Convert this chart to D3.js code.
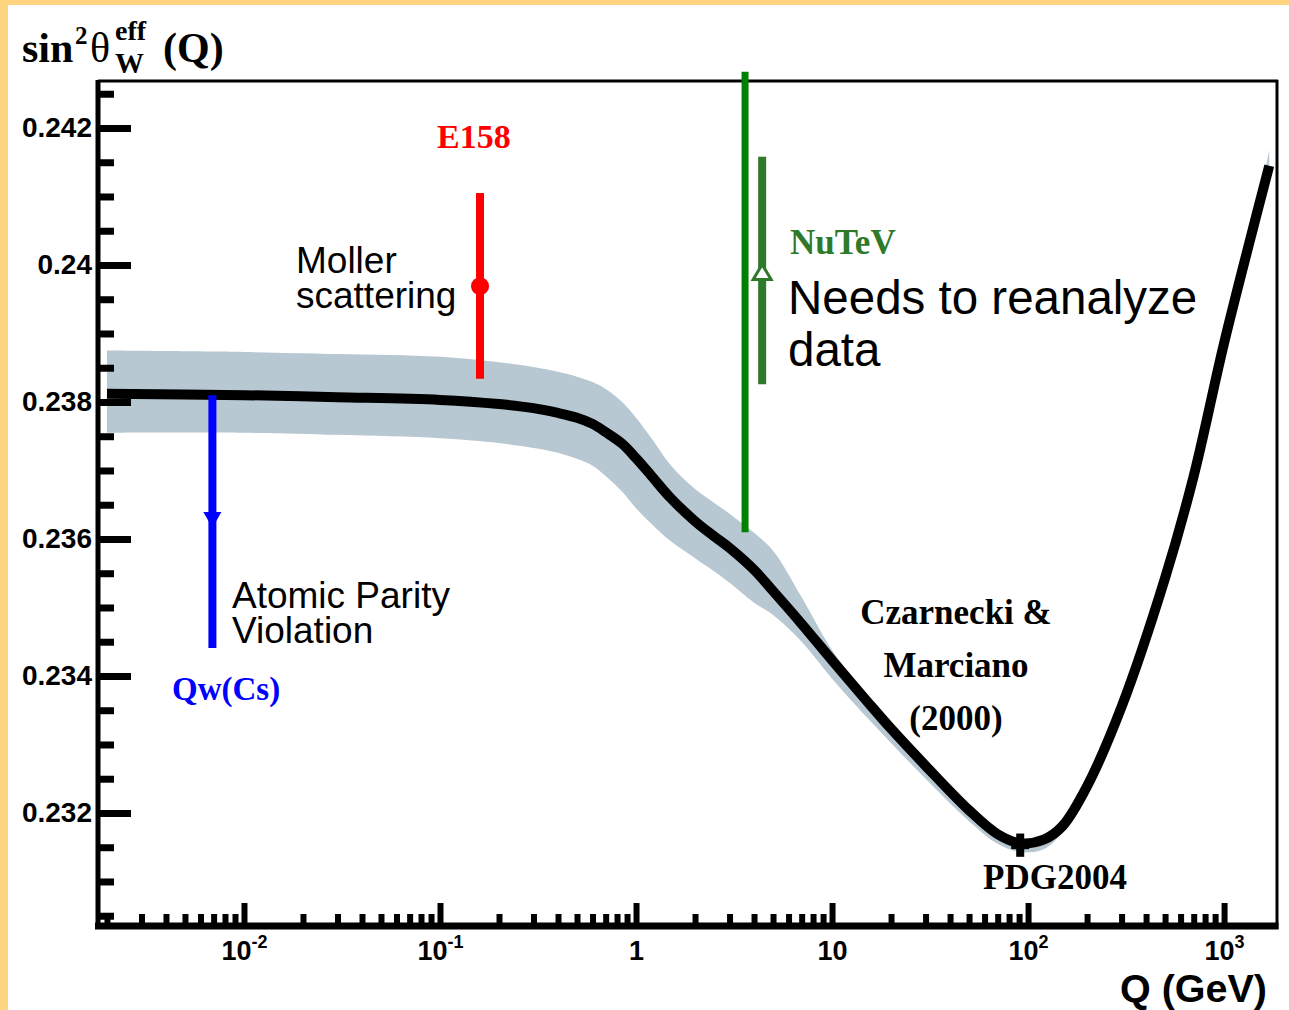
<!DOCTYPE html>
<html>
<head>
<meta charset="utf-8">
<script src="https://cdn.jsdelivr.net/npm/d3@7"></script>
<style>
  body { margin: 0; background: #fff; }
  svg { display: block; }
</style>
</head>
<body>
<svg id="chart" width="1289" height="1010"></svg>
<script>
// ==========================
// DATA
// ==========================
const qValues     = [0.002, 0.01, 0.03, 0.1, 0.2, 0.3, 0.4, 0.5, 0.6, 0.7, 0.85, 1, 1.2, 1.5, 2, 2.5, 3, 4, 5, 7, 10, 15, 20, 30, 50, 70, 91, 120, 150, 200, 300, 500, 700, 1000, 1500, 1700];
const curveValues = [0.23812, 0.23810, 0.23807, 0.23803, 0.23797, 0.23791, 0.23784, 0.23777, 0.23768, 0.23756, 0.23739, 0.23718, 0.23692, 0.23660, 0.23626, 0.23604, 0.23587, 0.23555, 0.23524, 0.23476, 0.23423, 0.23364, 0.23323, 0.23269, 0.23204, 0.23169, 0.23156, 0.23161, 0.23181, 0.23239, 0.23355, 0.23543, 0.23692, 0.23886, 0.24085, 0.24145];
const bandUpper   = [0.23875, 0.23873, 0.23870, 0.23866, 0.23858, 0.23851, 0.23844, 0.23837, 0.23829, 0.23819, 0.23800, 0.23777, 0.23747, 0.23708, 0.23673, 0.23653, 0.23637, 0.23609, 0.23583, 0.23515, 0.23438, 0.23372, 0.23330, 0.23275, 0.23210, 0.23175, 0.23162, 0.23166, 0.23190, 0.23250, 0.23365, 0.23553, 0.23702, 0.23896, 0.24095, 0.24168];
const bandLower   = [0.23755, 0.23755, 0.23752, 0.23747, 0.23740, 0.23733, 0.23726, 0.23717, 0.23707, 0.23692, 0.23669, 0.23645, 0.23622, 0.23597, 0.23572, 0.23553, 0.23536, 0.23507, 0.23489, 0.23450, 0.23396, 0.23340, 0.23302, 0.23250, 0.23188, 0.23155, 0.23143, 0.23147, 0.23172, 0.23231, 0.23345, 0.23533, 0.23682, 0.23876, 0.24075, 0.24136];

// measurements: [Q, low, central, high]
const e158     = [0.16, 0.23834, 0.23969, 0.24105];
const nutev    = [4.4, 0.23826, 0.23989, 0.24158];
const nutevOld = [3.6, 0.23610, 0.24282];            // [Q, low, high]
const apv      = [0.0069, 0.23441, 0.23616, 0.2381]; // [Q, bottom, arrow tip, top]
const pdg      = [91.19, 0.23136, 0.23153, 0.23170];

const yMajorTicks = [0.232, 0.234, 0.236, 0.238, 0.24, 0.242];
const yTickLabels = ["0.232", "0.234", "0.236", "0.238", "0.24", "0.242"];
const xMajorTicks = [0.01, 0.1, 1, 10, 100, 1000];
const xTickLabels = [["10", "-2"], ["10", "-1"], ["1", ""], ["10", ""], ["10", "2"], ["10", "3"]];

// ==========================
// SETUP
// ==========================
const svg = d3.select("#chart");
const plotLeft = 98, plotRight = 1277, plotTop = 81, plotBottom = 926;
const sans = "'Liberation Sans', Arial, sans-serif";
const serif = "'Liberation Serif', 'Times New Roman', serif";

const x = d3.scaleLog().domain([0.0018, 1862]).range([plotLeft, plotRight]);
const y = d3.scaleLinear().domain([0.23035, 0.242686]).range([plotBottom, plotTop]);

svg.append("rect").attr("width", 1289).attr("height", 1010).attr("fill", "#fff");
// orange slide border (top + left)
svg.append("rect").attr("x", 0).attr("y", 0).attr("width", 1289).attr("height", 5).attr("fill", "#ffd480");
svg.append("rect").attr("x", 0).attr("y", 0).attr("width", 8).attr("height", 1010).attr("fill", "#ffd480");

// minor tick values
const yMinor = [];
for (let k = 461; k <= 485; k++) if (k % 4 !== 0) yMinor.push(k * 0.0005);
const xMinor = [];
for (let e = -3; e <= 2; e++) {
    for (let m = 2; m <= 9; m++) {
        const v = m * Math.pow(10, e);
        if (v > x.domain()[0] && v < x.domain()[1]) xMinor.push(v);
    }
}

// ==========================
// BAND + CURVE
// ==========================
const pts = qValues.map((q, i) => ({ q, v: curveValues[i], lo: bandLower[i], hi: bandUpper[i] }));
const smooth = d3.curveCatmullRom.alpha(0.5);

svg.append("path")
    .datum(pts)
    .attr("fill", "#b8c8d2")
    .attr("d", d3.area()
        .x(d => x(d.q))
        .y0(d => y(d.lo))
        .y1(d => y(d.hi))
        .curve(smooth));

svg.append("path")
    .datum(pts)
    .attr("fill", "none")
    .attr("stroke", "#000")
    .attr("stroke-width", 10)
    .attr("d", d3.line()
        .x(d => x(d.q))
        .y(d => y(d.v))
        .curve(smooth));

// ==========================
// AXES
// ==========================
function styleAxis(g, w) {
    g.select(".domain").remove();
    g.selectAll(".tick line").attr("stroke", "#000").attr("stroke-width", w);
}

const gyMinor = svg.append("g").attr("transform", `translate(${plotLeft},0)`)
    .call(d3.axisLeft(y).tickValues(yMinor).tickSize(-16).tickFormat(""));
styleAxis(gyMinor, 7);

const gy = svg.append("g").attr("transform", `translate(${plotLeft},0)`)
    .call(d3.axisLeft(y).tickValues(yMajorTicks).tickSize(-33).tickPadding(6)
        .tickFormat((d, i) => yTickLabels[i]));
styleAxis(gy, 7);
gy.selectAll(".tick text")
    .attr("font-family", sans).attr("font-weight", "bold").attr("font-size", 28).attr("fill", "#000");

const gxMinor = svg.append("g").attr("transform", `translate(0,${plotBottom})`)
    .call(d3.axisBottom(x).tickValues(xMinor).tickSize(-12).tickFormat(""));
styleAxis(gxMinor, 6);

const gx = svg.append("g").attr("transform", `translate(0,${plotBottom})`)
    .call(d3.axisBottom(x).tickValues(xMajorTicks).tickSize(-23).tickPadding(15)
        .tickFormat((d, i) => xTickLabels[i][0]));
styleAxis(gx, 6);
gx.selectAll(".tick text")
    .attr("font-family", sans).attr("font-weight", "bold").attr("font-size", 27).attr("fill", "#000")
    .each(function(d, i) {
        if (xTickLabels[i][1]) {
            d3.select(this).append("tspan")
                .attr("dy", -12).attr("font-size", 18)
                .text(xTickLabels[i][1]);
        }
    });

// frame
svg.append("line").attr("x1", plotLeft).attr("x2", plotRight + 1).attr("y1", plotTop).attr("y2", plotTop)
    .attr("stroke", "#000").attr("stroke-width", 3);
svg.append("line").attr("x1", plotRight).attr("x2", plotRight).attr("y1", plotTop - 1).attr("y2", plotBottom + 3)
    .attr("stroke", "#000").attr("stroke-width", 3);
svg.append("line").attr("x1", plotLeft - 3).attr("x2", plotRight + 1.5).attr("y1", plotBottom).attr("y2", plotBottom)
    .attr("stroke", "#000").attr("stroke-width", 7);
svg.append("line").attr("x1", plotLeft).attr("x2", plotLeft).attr("y1", plotTop - 1).attr("y2", plotBottom + 3)
    .attr("stroke", "#000").attr("stroke-width", 5);

// ==========================
// MEASUREMENTS
// ==========================
// E158 (red)
svg.append("line")
    .attr("x1", x(e158[0])).attr("x2", x(e158[0]))
    .attr("y1", y(e158[1])).attr("y2", y(e158[3]))
    .attr("stroke", "#ff0000").attr("stroke-width", 8);
svg.append("circle")
    .attr("cx", x(e158[0])).attr("cy", y(e158[2])).attr("r", 9)
    .attr("fill", "#ff0000");

// NuTeV (old, long green bar)
svg.append("line")
    .attr("x1", x(nutevOld[0])).attr("x2", x(nutevOld[0]))
    .attr("y1", y(nutevOld[1])).attr("y2", y(nutevOld[2]))
    .attr("stroke", "#008000").attr("stroke-width", 7);

// NuTeV (dark green with open triangle)
svg.append("line")
    .attr("x1", x(nutev[0])).attr("x2", x(nutev[0]))
    .attr("y1", y(nutev[1])).attr("y2", y(nutev[3]))
    .attr("stroke", "#2e7a2a").attr("stroke-width", 8);
svg.append("path")
    .attr("transform", `translate(${x(nutev[0])},${y(nutev[2])})`)
    .attr("d", "M0,-8L9,7L-9,7Z")
    .attr("fill", "#fff").attr("stroke", "#2e7a2a").attr("stroke-width", 3);

// APV (blue arrow)
svg.append("line")
    .attr("x1", x(apv[0])).attr("x2", x(apv[0]))
    .attr("y1", y(apv[3])).attr("y2", y(apv[1]))
    .attr("stroke", "#0000ff").attr("stroke-width", 8);
svg.append("path")
    .attr("transform", `translate(${x(apv[0])},${y(apv[2])})`)
    .attr("d", "M0,0L-9,-16L9,-16Z")
    .attr("fill", "#0000ff");

// PDG2004 point
svg.append("line")
    .attr("x1", x(pdg[0])).attr("x2", x(pdg[0]))
    .attr("y1", y(pdg[1])).attr("y2", y(pdg[3]))
    .attr("stroke", "#000").attr("stroke-width", 8);
svg.append("line")
    .attr("x1", x(pdg[0]) - 9).attr("x2", x(pdg[0]) + 9)
    .attr("y1", y(pdg[2])).attr("y2", y(pdg[2]))
    .attr("stroke", "#000").attr("stroke-width", 8);

// ==========================
// TEXT
// ==========================
function label(txt, px, py, opts) {
    return svg.append("text")
        .attr("x", px).attr("y", py)
        .attr("font-family", opts.family || sans)
        .attr("font-size", opts.size)
        .attr("font-weight", opts.weight || "normal")
        .attr("fill", opts.color || "#000")
        .attr("text-anchor", opts.anchor || "start")
        .text(txt);
}

// several lines in one text element
function labelLines(lines, px, py, lineHeight, opts) {
    const t = label("", px, py, opts);
    lines.forEach((s, i) => {
        t.append("tspan").attr("x", px).attr("dy", i === 0 ? 0 : lineHeight).text(s);
    });
    return t;
}

// y title: sin^2 theta_W^eff (Q)
label("sin", 22, 62, { family: serif, size: 42, weight: "bold" });
label("2", 75, 44, { family: serif, size: 25, weight: "bold" });
label("θ", 90, 62, { family: serif, size: 42 });
label("eff", 115, 40, { family: serif, size: 28, weight: "bold" });
label("W", 115, 73, { family: serif, size: 29, weight: "bold" });
label("(Q)", 163, 62, { family: serif, size: 42, weight: "bold" });

// x title
label("Q (GeV)", 1267, 1001.5, { size: 39.5, weight: "bold", anchor: "end" });

label("E158", 437, 148, { family: serif, size: 34, weight: "bold", color: "#ff0000" });
labelLines(["Moller", "scattering"], 296, 273, 35, { size: 37 });

label("NuTeV", 790, 254, { family: serif, size: 35, weight: "bold", color: "#2e7a2a" });
labelLines(["Needs to reanalyze", "data"], 788, 314, 52, { size: 47.5 });

labelLines(["Atomic Parity", "Violation"], 232, 608, 35, { size: 37 });
label("Qw(Cs)", 172, 700, { family: serif, size: 33, weight: "bold", color: "#0000ff" });

labelLines(["Czarnecki &", "Marciano", "(2000)"], 956, 624, 53, { family: serif, size: 35, weight: "bold", anchor: "middle" });
label("PDG2004", 983, 889, { family: serif, size: 35, weight: "bold" });
</script>
</body>
</html>
